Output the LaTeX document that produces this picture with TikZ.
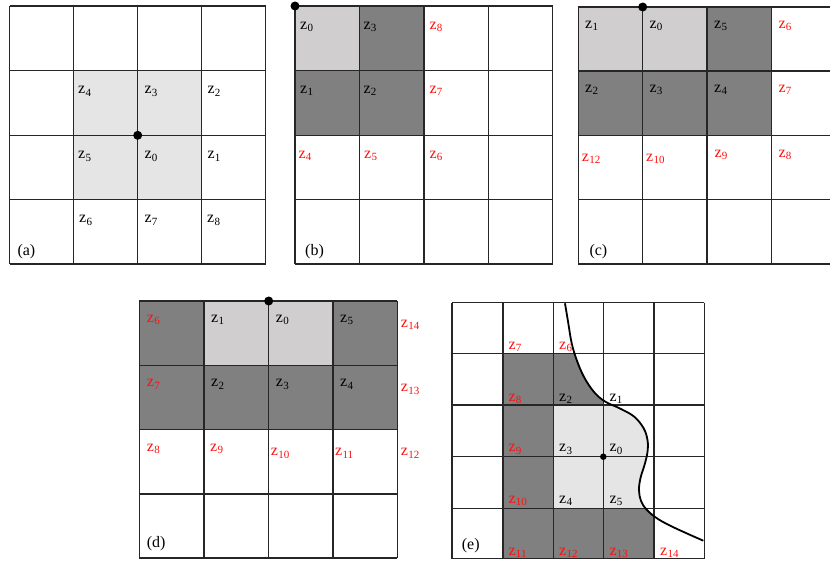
\documentclass[tikz,border=0pt]{standalone}
\usepackage{fontspec}
\setmainfont{Liberation Serif}
\newcommand{\zs}[1]{z\kern0.3pt\raisebox{-0.35ex}{\fontsize{11}{11}\selectfont #1}}
\definecolor{lightA}{gray}{0.90}
\definecolor{lightB}{HTML}{D0CECE}
\definecolor{darkC}{gray}{0.50}
\definecolor{zred}{HTML}{FF1010}
\tikzset{
  lab/.style={anchor=base west, inner sep=0pt, font=\fontsize{16}{16}\selectfont},
  rlab/.style={lab, text=zred},
  gridline/.style={line width=1.1pt, draw=black!85},
  dotmark/.style={circle, fill=black, inner sep=0pt, minimum size=#1},
}
\begin{document}
\begin{tikzpicture}[x=1pt,y=-1pt]
\useasboundingbox (0,0) rectangle (830,562);

% ---------------- (a) ----------------
\fill[lightA] (73.3,70.7) rectangle (201.7,199.3);
\foreach \x in {9.5,73.3,137.7,201.7,265.7} \draw[gridline] (\x,6) -- (\x,264);
\foreach \y in {6,70.7,135.3,199.3,264} \draw[gridline] (9.5,\y) -- (265.7,\y);
\node[lab] (a4) at (78,93.7) {\zs{4}};
\node[lab] (a3) at (144.3,93.7) {\zs{3}};
\node[lab] (a2) at (207.3,93.7) {\zs{2}};
\node[lab] (a5) at (78,158.7) {\zs{5}};
\node[lab] (a0) at (144.3,158.7) {\zs{0}};
\node[lab] (a1) at (207.3,158.7) {\zs{1}};
\node[lab] (a6) at (79,222.7) {\zs{6}};
\node[lab] (a7) at (144.3,222.7) {\zs{7}};
\node[lab] (a8) at (207,222.7) {\zs{8}};
\node[lab] (acap) at (17.3,255) {(a)};
\node[dotmark=9pt] (adot) at (137.7,135.3) {};

% ---------------- (b) ----------------
\fill[lightB] (295,6) rectangle (359.3,70.7);
\fill[darkC] (359.3,6) rectangle (424,70.7);
\fill[darkC] (295,70.7) rectangle (424,135.3);
\foreach \x in {295,359.3,424,488.3,552.7} \draw[gridline] (\x,6) -- (\x,264);
\foreach \y in {6,70.7,135.3,199.3,264} \draw[gridline] (295,\y) -- (552.7,\y);
\node[lab] (b0) at (300,29.3) {\zs{0}};
\node[lab] (b3) at (363.3,29.3) {\zs{3}};
\node[rlab] (b8) at (429.3,29.3) {\zs{8}};
\node[lab] (b1) at (300,93.3) {\zs{1}};
\node[lab] (b2) at (363.3,93.3) {\zs{2}};
\node[rlab] (b7) at (429.3,93.3) {\zs{7}};
\node[rlab] (b4) at (298.3,158.3) {\zs{4}};
\node[rlab] (b5) at (364,158.3) {\zs{5}};
\node[rlab] (b6) at (429.3,158.3) {\zs{6}};
\node[lab] (bcap) at (305,255) {(b)};
\node[dotmark=9pt] (bdot) at (295,6) {};

% ---------------- (c) ----------------
\fill[lightB] (578.3,7) rectangle (707,71);
\fill[darkC] (707,7) rectangle (771.3,71);
\fill[darkC] (578.3,71) rectangle (771.3,135.3);
\foreach \x in {578.3,642.7,707,771.3} \draw[gridline] (\x,7) -- (\x,264);
\foreach \y in {7,71,135.3,199.7,264} \draw[gridline] (578.3,\y) -- (830,\y);
\node[lab] (c1) at (585,28.3) {\zs{1}};
\node[lab] (c0) at (649.3,28.3) {\zs{0}};
\node[lab] (c5) at (714,28.3) {\zs{5}};
\node[rlab] (c6) at (778.3,28.3) {\zs{6}};
\node[lab] (c2) at (585,92.3) {\zs{2}};
\node[lab] (c3) at (649.3,92.3) {\zs{3}};
\node[lab] (c4) at (714,92.3) {\zs{4}};
\node[rlab] (c7) at (778.3,92.3) {\zs{7}};
\node[rlab] (c12) at (581.7,161) {\zs{12}};
\node[rlab] (c10) at (646,161) {\zs{10}};
\node[rlab] (c9) at (714.3,157) {\zs{9}};
\node[rlab] (c8) at (778.3,157) {\zs{8}};
\node[lab] (ccap) at (589.3,255) {(c)};
\node[dotmark=9pt] (cdot) at (642.7,7) {};

% ---------------- (d) ----------------
\fill[darkC] (139.3,301) rectangle (204,365.3);
\fill[lightB] (204,301) rectangle (333,365.3);
\fill[darkC] (333,301) rectangle (397.3,365.3);
\fill[darkC] (139.3,365.3) rectangle (397.3,429.7);
\foreach \x in {139.3,204,268.7,333,397.3} \draw[gridline] (\x,301) -- (\x,558);
\foreach \y in {301,365.3,429.7,494,558} \draw[gridline] (139.3,\y) -- (397.3,\y);
\node[rlab] (d6) at (146.7,322.3) {\zs{6}};
\node[lab] (d1) at (211,322.3) {\zs{1}};
\node[lab] (d0) at (275.7,322.3) {\zs{0}};
\node[lab] (d5) at (340,322.3) {\zs{5}};
\node[rlab] (d14) at (400.7,327.3) {\zs{14}};
\node[rlab] (d7) at (146.7,386.7) {\zs{7}};
\node[lab] (d2) at (211,386.7) {\zs{2}};
\node[lab] (d3) at (275.7,386.7) {\zs{3}};
\node[lab] (d4) at (340,386.7) {\zs{4}};
\node[rlab] (d13) at (400.7,391.7) {\zs{13}};
\node[rlab] (d8) at (146.7,451) {\zs{8}};
\node[rlab] (d9) at (210,451) {\zs{9}};
\node[rlab] (d10) at (270.7,455.7) {\zs{10}};
\node[rlab] (d11) at (335,455.7) {\zs{11}};
\node[rlab] (d12) at (400.7,455.7) {\zs{12}};
\node[lab] (dcap) at (146.7,547.7) {(d)};
\node[dotmark=9pt] (ddot) at (268.7,301) {};

% ---------------- (e) ----------------
\def\ecurve{(565,303.3) (568.3,323.3) (571.7,343.3) (576.7,360) (584,377) (594,392) (605,401.5) (620,408.5) (634,416.5) (643.5,428) (647.5,440) (647.5,452) (644.5,465) (640.5,478) (639,490) (641,501) (647,510) (658,519) (675,528) (703.3,540.7)}
\begin{scope}
  \clip plot[smooth, tension=0.6] coordinates {\ecurve} -- (703.3,562) -- (440,562) -- (440,300) -- cycle;
  \fill[darkC] (503,353.7) rectangle (553.3,558.7);
  \fill[darkC] (553.3,353.7) rectangle (603.3,405);
  \fill[darkC] (553.3,508.3) rectangle (654,558.7);
  \fill[lightA] (553.3,405) rectangle (654,508.3);
\end{scope}
\foreach \x in {452,503,553.3,603.3,654,704.3} \draw[gridline] (\x,302.7) -- (\x,558.7);
\foreach \y in {302.7,353.7,405,456.7,508.3,558.7} \draw[gridline] (452,\y) -- (704.3,\y);
\draw[line width=1.8pt] plot[smooth, tension=0.6] coordinates {\ecurve};
\node[rlab] (e7) at (508.3,349.3) {\zs{7}};
\node[rlab] (e6) at (559,349.3) {\zs{6}};
\node[rlab] (e8) at (508.3,401) {\zs{8}};
\node[lab] (e2) at (559,401) {\zs{2}};
\node[lab] (e1) at (609.3,401) {\zs{1}};
\node[rlab] (e9) at (508.3,451.7) {\zs{9}};
\node[lab] (e3) at (559,451.7) {\zs{3}};
\node[lab] (e0) at (609.3,451.7) {\zs{0}};
\node[rlab] (e10) at (508.3,503.3) {\zs{10}};
\node[lab] (e4) at (559,503.3) {\zs{4}};
\node[lab] (e5) at (609.3,503.3) {\zs{5}};
\node[rlab] (e11) at (508.3,555) {\zs{11}};
\node[rlab] (e12) at (559,555) {\zs{12}};
\node[rlab] (e13) at (609.3,555) {\zs{13}};
\node[rlab] (e14) at (660,555) {\zs{14}};
\node[lab] (ecap) at (461.7,549.3) {(e)};
\node[dotmark=6.5pt] (edot) at (603.3,456.7) {};
\end{tikzpicture}
\end{document}
